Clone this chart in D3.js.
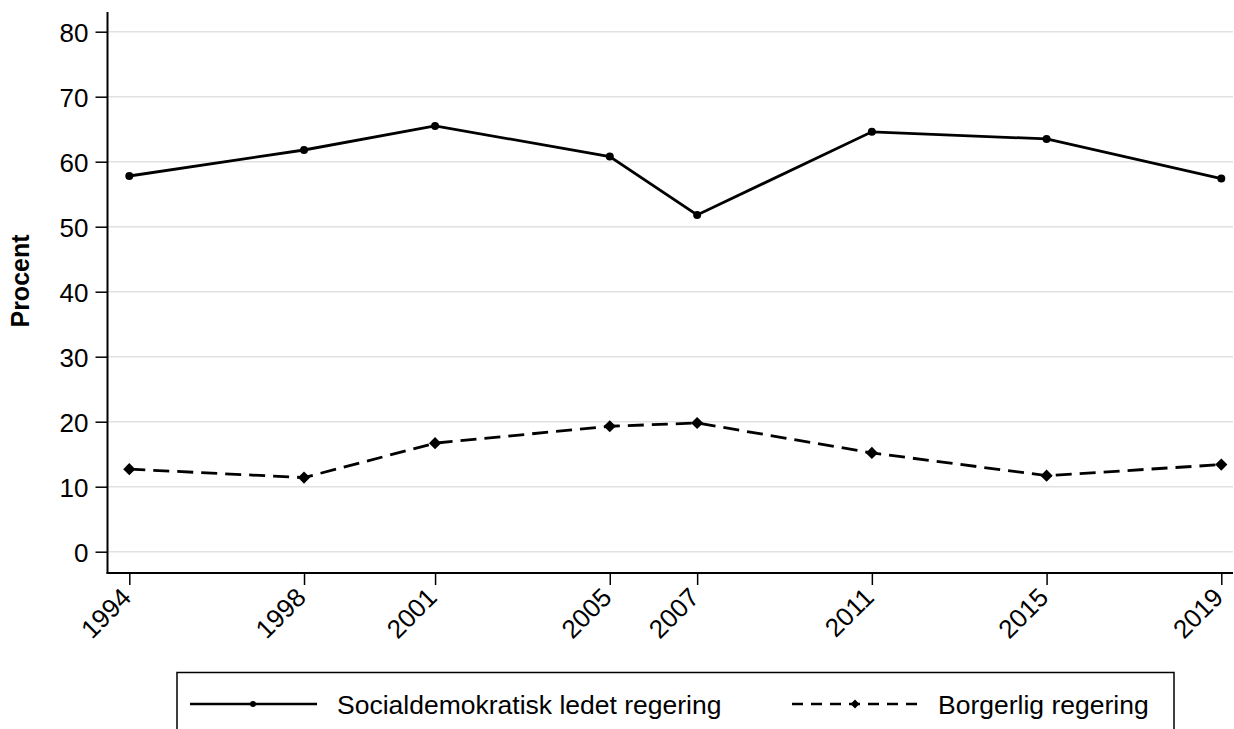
<!DOCTYPE html>
<html><head><meta charset="utf-8">
<script src="https://cdn.jsdelivr.net/npm/d3@7"></script>
<style>body{margin:0;background:#fff}svg{display:block;font-family:"Liberation Sans",Arial,sans-serif}</style>
</head><body><svg id="c" width="1234" height="729"></svg>
<script>
const years = [1994, 1998, 2001, 2005, 2007, 2011, 2015, 2019];
const socialdem = [57.8, 61.8, 65.5, 60.8, 51.8, 64.6, 63.5, 57.4];
const borgerlig = [12.7, 11.4, 16.7, 19.3, 19.8, 15.2, 11.7, 13.4];
const yTicks = [0, 10, 20, 30, 40, 50, 60, 70, 80];
const seriesNames = ["Socialdemokratisk ledet regering", "Borgerlig regering"];
const yLabel = "Procent";

const svg = d3.select("#c");
const L = 107.5, R = 1233, T = 12, B = 573;
const x = d3.scaleLinear().domain([1994, 2019]).range([129.3, 1221.3]);
const y = d3.scaleLinear().domain([0, 80]).range([551.7, 31.7]);

// gridlines
svg.append("g").selectAll("line").data(yTicks).join("line")
  .attr("x1", L).attr("x2", R).attr("y1", d => y(d)).attr("y2", d => y(d))
  .attr("stroke", "#e1e1e1").attr("stroke-width", 1.5);

// y axis
const ya = svg.append("g").attr("transform", `translate(${L},0)`)
  .call(d3.axisLeft(y).tickValues(yTicks).tickSize(12).tickPadding(7).tickSizeOuter(0));
ya.select(".domain").remove();
ya.selectAll("line").attr("stroke", "#000").attr("stroke-width", 1.5);
ya.selectAll("text").attr("font-size", 26).attr("fill", "#000").attr("dy", "0.38em");
svg.append("line").attr("x1", L).attr("x2", L).attr("y1", T).attr("y2", B + 0.75).attr("stroke", "#000").attr("stroke-width", 2);

// x axis
const xa = svg.append("g").attr("transform", `translate(0,${B})`)
  .call(d3.axisBottom(x).tickValues(years).tickFormat(d3.format("d")).tickSize(12).tickPadding(4).tickSizeOuter(0));
xa.select(".domain").remove();
xa.selectAll("line").attr("stroke", "#000").attr("stroke-width", 1.5);
xa.selectAll("text").attr("font-size", 26).attr("fill", "#000")
  .attr("text-anchor", "end").attr("x", 0).attr("y", 0).attr("dy", null)
  .attr("transform", "translate(3,26) rotate(-45)");
svg.append("line").attr("x1", L - 1).attr("x2", R).attr("y1", B).attr("y2", B).attr("stroke", "#000").attr("stroke-width", 2);

// y label
svg.append("text").attr("transform", "translate(29,281) rotate(-90)")
  .attr("text-anchor", "middle").attr("font-size", 25).attr("font-weight", "bold").text(yLabel);

const line = d3.line().x(d => x(d[0])).y(d => y(d[1]));
const s1 = years.map((yr, i) => [yr, socialdem[i]]);
const s2 = years.map((yr, i) => [yr, borgerlig[i]]);

svg.append("path").datum(s1).attr("d", line).attr("fill", "none").attr("stroke", "#000").attr("stroke-width", 2.8);
svg.append("path").datum(s2).attr("d", line).attr("fill", "none").attr("stroke", "#000").attr("stroke-width", 2.8).attr("stroke-dasharray", "16,8");

const circ = d3.symbol().type(d3.symbolCircle).size(50);
const diam = d3.symbol().type(d3.symbolDiamond2).size(95);
svg.append("g").selectAll("path").data(s1).join("path")
  .attr("d", circ).attr("transform", d => `translate(${x(d[0])},${y(d[1])})`).attr("fill", "#000");
svg.append("g").selectAll("path").data(s2).join("path")
  .attr("d", diam).attr("transform", d => `translate(${x(d[0])},${y(d[1])})`).attr("fill", "#000");

// legend
const lg = svg.append("g");
lg.append("rect").attr("x", 177).attr("y", 672.5).attr("width", 997).attr("height", 70)
  .attr("fill", "#fff").attr("stroke", "#000").attr("stroke-width", 1.5);
const ly = 704;
lg.append("line").attr("x1", 190).attr("x2", 317).attr("y1", ly).attr("y2", ly).attr("stroke", "#000").attr("stroke-width", 2.5);
lg.append("path").attr("d", d3.symbol().type(d3.symbolCircle).size(28)).attr("transform", `translate(253,${ly})`);
lg.append("text").attr("x", 337).attr("y", ly).attr("dy", "0.36em").attr("font-size", 26.5).text(seriesNames[0]);
lg.append("line").attr("x1", 792).attr("x2", 918).attr("y1", ly).attr("y2", ly).attr("stroke", "#000").attr("stroke-width", 2.5).attr("stroke-dasharray", "11,8");
lg.append("path").attr("d", d3.symbol().type(d3.symbolDiamond2).size(50)).attr("transform", `translate(855,${ly})`);
lg.append("text").attr("x", 938).attr("y", ly).attr("dy", "0.36em").attr("font-size", 26.5).text(seriesNames[1]);
</script></body></html>
